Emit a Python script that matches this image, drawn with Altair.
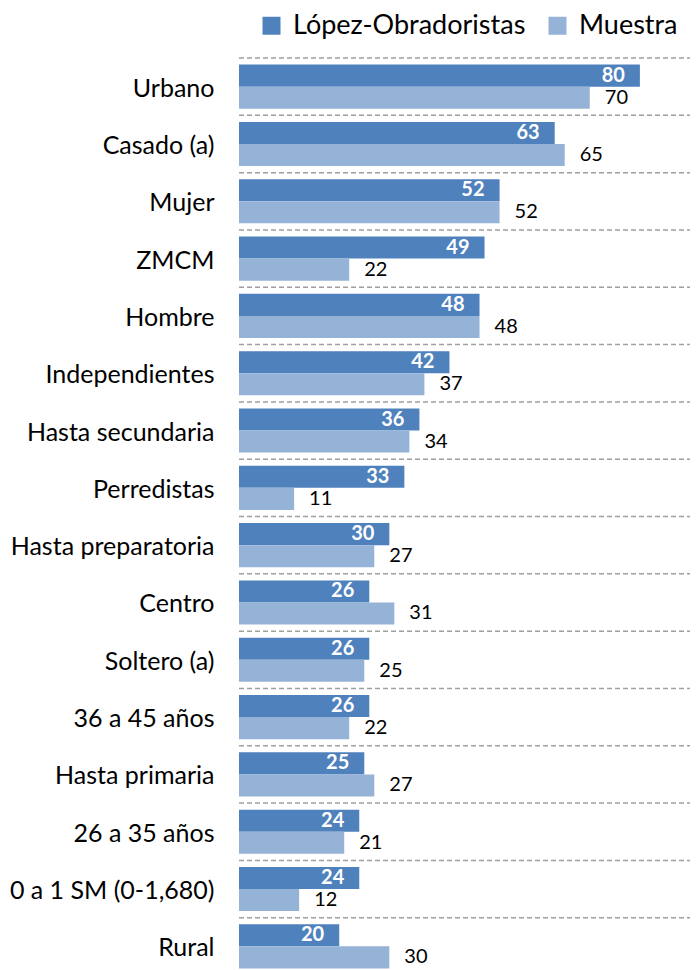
import altair as alt
import pandas as pd

cats = ["Urbano", "Casado (a)", "Mujer", "ZMCM", "Hombre", "Independientes",
        "Hasta secundaria", "Perredistas", "Hasta preparatoria", "Centro",
        "Soltero (a)", "36 a 45 años", "Hasta primaria", "26 a 35 años",
        "0 a 1 SM (0-1,680)", "Rural"]
lopez = [80, 63, 52, 49, 48, 42, 36, 33, 30, 26, 26, 26, 25, 24, 24, 20]
muestra = [70, 65, 52, 22, 48, 37, 34, 11, 27, 31, 25, 22, 27, 21, 12, 30]
series = ["López-Obradoristas", "Muestra"]
colors = ["#4F81BD", "#95B3D7"]

rows = []
for c, a, b in zip(cats, lopez, muestra):
    rows.append({"cat": c, "series": series[0], "value": a})
    rows.append({"cat": c, "series": series[1], "value": b})
df = pd.DataFrame(rows)
grid_df = pd.DataFrame({"cat": cats})

W, H = 451, 917
FONT = "Lato"

yenc = alt.Y("cat:N", sort=cats, title=None,
             scale=alt.Scale(paddingInner=0, paddingOuter=0),
             axis=alt.Axis(domain=False, ticks=False, labelFontSize=25,
                           labelFont=FONT, labelColor="black", labelPadding=25,
                           labelLimit=260, grid=False, labelOffset=2))
yoff = alt.YOffset("series:N", sort=series,
                   scale=alt.Scale(paddingOuter=0.3, paddingInner=0))
xenc = alt.X("value:Q", scale=alt.Scale(domain=[0, 90]), axis=None)

base = alt.Chart(df)

bars = base.mark_bar().encode(
    y=yenc, yOffset=yoff, x=xenc,
    color=alt.Color("series:N", sort=series,
                    scale=alt.Scale(domain=series, range=colors),
                    legend=alt.Legend(title=None, orient="none", legendX=19,
                                      legendY=-46, direction="horizontal",
                                      symbolType="square", symbolSize=324,
                                      symbolStrokeWidth=0, labelFontSize=27,
                                      labelFont=FONT, labelColor="black",
                                      labelOffset=8, columnPadding=18,
                                      labelLimit=400, padding=0)),
)

grid = alt.Chart(grid_df).mark_rule(strokeDash=[5, 3], color="#A0A0A0",
                                     strokeWidth=1.5).encode(
    y=alt.Y("cat:N", sort=cats, bandPosition=0),
    x=alt.value(0), x2=alt.value(W),
)

lab_dark = base.transform_filter(alt.datum.series == series[0]).mark_text(
    align="right", baseline="middle", dx=-15, color="white",
    fontWeight="bold", fontSize=20, font=FONT).encode(
    y=yenc, yOffset=yoff, x=xenc, text="value:Q")

lab_light = base.transform_filter(alt.datum.series == series[1]).mark_text(
    align="left", baseline="middle", dx=15, color="black",
    fontSize=20, font=FONT).encode(
    y=yenc, yOffset=yoff, x=xenc, text="value:Q")

chart = alt.layer(grid, bars, lab_dark, lab_light).properties(
    width=W, height=H,
    autosize=alt.AutoSizeParams(type="none"),
    padding={"left": 231, "top": 50, "right": 0, "bottom": 0},
).configure_view(stroke=None)

chart.save("out.html", embed_options={"renderer": "svg", "actions": False})
